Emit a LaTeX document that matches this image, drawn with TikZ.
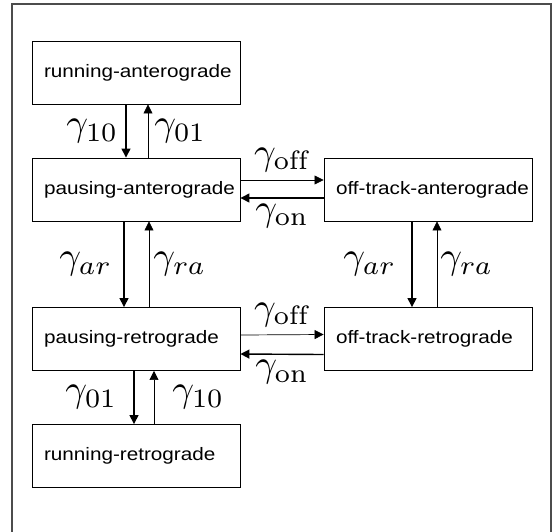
\documentclass[tikz,border=0pt]{standalone}
\usepackage{fontspec}
\newfontfamily\statefont[FakeStretch=1.15]{Liberation Sans}
\usetikzlibrary{positioning,arrows.meta}

\newcommand{\rate}[1]{\scalebox{3.8}{$\gamma_{#1}$}}
\newcommand{\statetext}[1]{\makebox[184pt][l]{#1}}

\begin{document}
\begin{tikzpicture}[x=1pt,y=1pt]
                    \tikzstyle{state}=[draw,rectangle,line width=0.9,minimum width=208,minimum height=63,inner xsep=12,inner ysep=0,font=\statefont\fontsize{18}{21}\selectfont]
                    \tikzstyle{rate}=[inner sep=0]
                    \tikzstyle{fast}=[line width=1.4,->]
                    \tikzstyle{slow}=[line width=0.7,->]
                    \tikzset{>={Triangle[length=9pt,width=9pt]}}
                    {
                        \useasboundingbox (0,0) rectangle (553,-531);
                        \draw[black!70,line width=1.2] (12,-4) rectangle (551,-560);

                        \node[state] (ra) at (136,-72.5) {\statetext{running-anterograde}};
                        \node[state,node distance=117] (pa) [below of=ra] {\statetext{pausing-anterograde}};
                        \node[state,node distance=292] (ota) [right of=pa] {\statetext{off-track-anterograde}};
                        \node[state,node distance=149.5] (pr) [below of=pa] {\statetext{pausing-retrograde}};
                        \node[state,node distance=292] (otr) [right of=pr] {\statetext{off-track-retrograde}};
                        \node[state,node distance=117] (rr) [below of=pr] {\statetext{running-retrograde}};

                        \draw[fast] ([xshift=-10]ra.south) -- node[rate,left=7] (g10a) {\rate{10}} ([xshift=-10]pa.north);
                        \draw[slow] ([xshift=12]pa.north) -- node[rate,right=6] (g01a) {\rate{01}} ([xshift=12]ra.south);

                        \draw[fast] ([xshift=-12]pa.south) -- node[rate,left=11] (garl) {\rate{ar}} ([xshift=-12]pr.north);
                        \draw[slow] ([xshift=13]pr.north) -- node[rate,right=4] (gral) {\rate{ra}} ([xshift=13]pa.south);

                        \draw[fast] ([xshift=-2]pr.south) -- node[rate,left=16] (g01r) {\rate{01}} ([xshift=-2]rr.north);
                        \draw[slow] ([xshift=18]rr.north) -- node[rate,right=18] (g10r) {\rate{10}} ([xshift=18]pr.south);

                        \draw[fast] ([xshift=-16]ota.south) -- node[rate,left=15] (garr) {\rate{ar}} ([xshift=-16]otr.north);
                        \draw[slow] ([xshift=9]otr.north) -- node[rate,right=3] (grar) {\rate{ra}} ([xshift=9]ota.south);

                        \draw[slow] ([yshift=9.5]pa.east) -- node[rate,above=8] (goffa) {\rate{\mathrm{off}}} ([yshift=9.5]ota.west);
                        \draw[fast] ([yshift=-8.5]ota.west) -- node[rate,below=5] (gona) {\rate{\mathrm{on}}} ([yshift=-8.5]pa.east);

                        \draw[slow] ([yshift=4]pr.east) -- node[rate,above=8] (goffr) {\rate{\mathrm{off}}} ([yshift=4.5]otr.west);
                        \draw[fast] ([yshift=-15.5]otr.west) -- node[rate,below=5] (gonr) {\rate{\mathrm{on}}} ([yshift=-15]pr.east);
                    }
\end{tikzpicture}
\end{document}
